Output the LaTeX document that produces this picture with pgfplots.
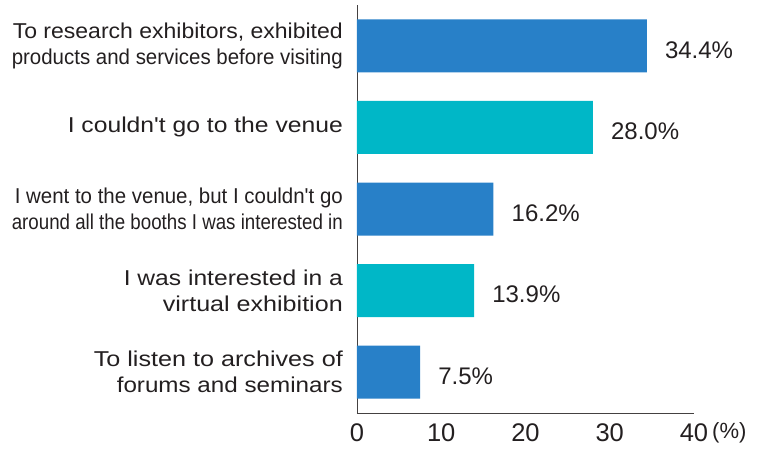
\documentclass[border=0pt]{standalone}
\usepackage{pgfplots}
\pgfplotsset{compat=1.18}
\usepackage{fontspec}
\setmainfont{Liberation Sans}[Ligatures=TeXOff]
\usepackage{graphicx}
\definecolor{barblue}{RGB}{40,128,200}
\definecolor{barteal}{RGB}{0,183,199}
\definecolor{txt}{RGB}{35,31,32}
\newcommand{\rb}[2]{\resizebox{#1}{\height}{#2}}
\begin{document}
\begin{tikzpicture}
\path[use as bounding box] (0,0) rectangle (761pt,448pt);
\begin{axis}[
  at={(357pt,35pt)}, anchor=south west,
  scale only axis, width=337pt, height=408pt,
  xbar, bar width=53pt, bar shift=0pt,
  xmin=0, xmax=40, ymin=-0.5, ymax=4.5,
  axis x line*=bottom, axis y line*=left,
  axis line style={-, draw=txt!85, line width=0.8pt},
  xtick={0,10,20,30,40}, ytick={0,1,2,3,4},
  major tick length=0pt,
  /pgf/number format/assume math mode=true,
  xticklabel style={font=\fontsize{25.5}{30}\selectfont, text=txt, inner sep=0pt, yshift=-10pt},
  yticklabel style={font=\fontsize{21.5}{26}\selectfont, text=txt, align=right, inner sep=0pt, xshift=-14pt},
  yticklabels={
    {\rb{249pt}{To listen to archives of}\\\rb{226pt}{forums and seminars}},
    {\rb{219pt}{I was interested in a}\\\rb{180pt}{virtual exhibition}},
    {\rb{328pt}{I went to the venue, but I couldn't go}\\\rb{331pt}{around all the booths I was interested in}},
    {\rb{275pt}{I couldn't go to the venue}},
    {\rb{330pt}{To research exhibitors, exhibited}\\\rb{331pt}{products and services before visiting}}
  },
  xlabel={(\%)},
  xlabel style={at={(axis description cs:1,0)}, anchor=north west, inner sep=0pt, xshift=18pt, yshift=-9pt, font=\fontsize{22}{26}\selectfont, text=txt},
  point meta=x,
  nodes near coords={\pgfmathprintnumber[fixed,fixed zerofill,precision=1]{\pgfplotspointmeta}\%},
  nodes near coords style={font=\fontsize{24}{28}\selectfont, text=txt, anchor=west, inner sep=0pt, xshift=18pt, yshift=-4pt},
  clip=false,
]
\addplot[draw=none, fill=barblue] coordinates {(34.4,4) (16.2,2) (7.5,0)};
\addplot[draw=none, fill=barteal] coordinates {(28.0,3) (13.9,1)};
\end{axis}
\end{tikzpicture}
\end{document}
